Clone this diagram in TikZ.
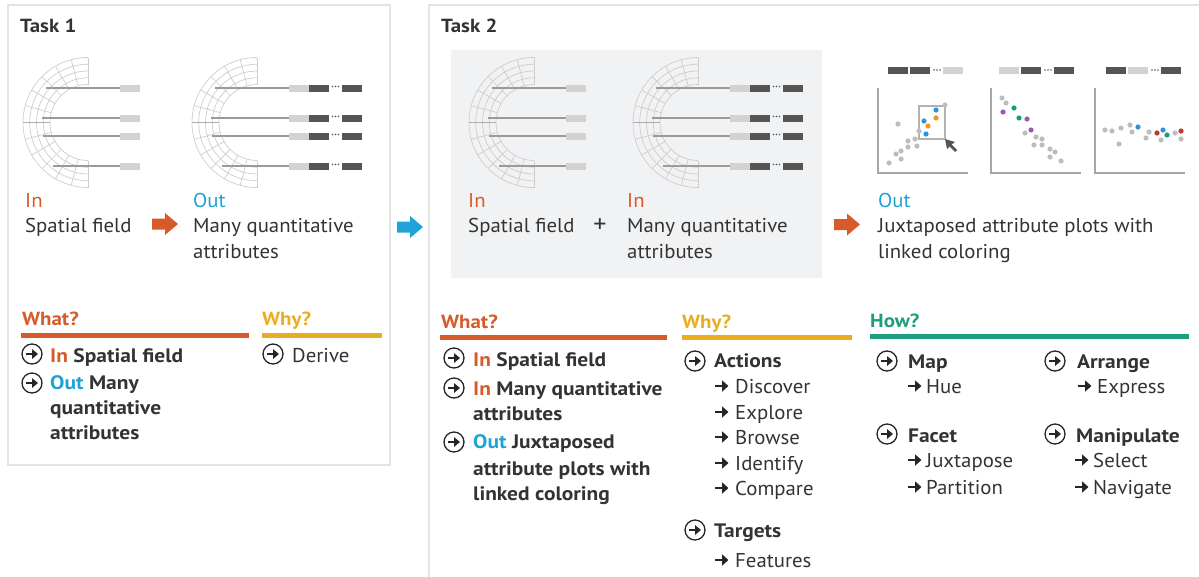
\documentclass[tikz,border=0pt]{standalone}
\usepackage{fontspec}
\setmainfont{PT Sans}[FakeStretch=1.04]
\newfontfamily\boldf{PT Sans}[FakeStretch=1.1]
\usetikzlibrary{arrows.meta,positioning,calc}

\definecolor{txt}{HTML}{333333}
\definecolor{inc}{HTML}{D65A2A}
\definecolor{outc}{HTML}{1FA3D6}
\definecolor{whyc}{HTML}{EBAD20}
\definecolor{howc}{HTML}{1E9E80}
\definecolor{gridc}{HTML}{CDCDCD}
\definecolor{rayc}{HTML}{9A9A9A}
\definecolor{lightc}{HTML}{D2D2D2}
\definecolor{darkc}{HTML}{555555}
\definecolor{panel}{HTML}{F1F2F4}
\definecolor{framec}{HTML}{E3E3E3}
\definecolor{dotg}{HTML}{BDBDBD}
\definecolor{dotb}{HTML}{2C95DA}
\definecolor{doto}{HTML}{F7941E}
\definecolor{dotp}{HTML}{9B59B6}
\definecolor{dotgr}{HTML}{1A9E7A}
\definecolor{dotr}{HTML}{C0392B}

% half polar grid, centre x y
\newcommand{\polarfield}[2]{%
  \foreach \r in {38,44.75,51.5,58.25,65}
    \draw[gridc,line width=0.7pt] (#1,#2) ++(90:\r) arc[start angle=90,end angle=270,radius=\r];
  \foreach \a in {90,105,...,270}
    \draw[gridc,line width=0.7pt] (#1,#2) ++(\a:38) -- ++(\a:27);
  \draw[rayc!80,line width=0.9pt] (#1-65,#2) -- (#1-38,#2);
  \foreach \dy/\sx in {-34.5/-42,-4.5/-46,13.5/-45,43.5/-35}{
    \draw[rayc,line width=1.7pt] (#1+\sx,#2+\dy) -- (#1+32,#2+\dy);
    \fill[lightc] (#1+32,#2+\dy-3.5) rectangle ++(20,7);
  }}
% dark attribute bars behind the light ones
\newcommand{\attrbars}[2]{%
  \foreach \dy in {-34.5,-4.5,13.5,43.5}{
    \fill[darkc] (#1+52,#2+\dy-3.5) rectangle ++(20,7);
    \foreach \d in {75.5,78.5,81.5} \fill[darkc] (#1+\d,#2+\dy-1.5) circle (0.9);
    \fill[darkc] (#1+85,#2+\dy-3.5) rectangle ++(20,7);
  }}
% plot header: left x, centre y, three colours
\newcommand{\plothead}[5]{%
  \fill[#3] (#1,#2-3.5) rectangle ++(20,7);
  \fill[#4] (#1+22,#2-3.5) rectangle ++(20,7);
  \foreach \d in {46,49,52} \fill[darkc] (#1+\d,#2-0.5) circle (0.9);
  \fill[#5] (#1+55,#2-3.5) rectangle ++(20,7);}
\newcommand{\blockarrow}[3]{%
  \fill[#3] (#1,#2-5.5) -- ++(13,0) -- ++(0,-5.5) -- ++(13,11) -- ++(-13,11) -- ++(0,-5.5) -- ++(-13,0) -- cycle;}
\newcommand{\itemicon}[2]{%
  \draw[icon] (#1,#2) circle (10);
  \draw[iconarr] (#1-6,#2) -- (#1+6,#2);}
\newcommand{\subarrow}[2]{\draw[subarr] (#1,#2) -- ++(13.5,0);}

\begin{document}
\begin{tikzpicture}[x=1pt,y=-1pt,
  lbl/.style={anchor=base west,inner sep=0pt,text=txt,font=\fontsize{20}{24}\selectfont},
  bl/.style={anchor=base west,inner sep=0pt,text=txt,font=\boldf\fontsize{19.5}{24}\selectfont\bfseries},
  hd/.style={anchor=base west,inner sep=0pt,font=\boldf\fontsize{19}{22}\selectfont\bfseries},
  icon/.style={draw=black!85,line width=1.3pt},
  iconarr/.style={-{Triangle[length=6pt,width=9.5pt]},line width=2.6pt,black!85},
  subarr/.style={-{Triangle[length=6.5pt,width=11pt]},line width=2.8pt,black!85},
  axis/.style={draw=black!35,line width=1.6pt},
  bar/.style={line width=4.5pt}]
\useasboundingbox (0,0) rectangle (1199,576);

% frames
\draw[framec,line width=2.5pt] (8,5) rectangle (390,465);
\draw[framec,line width=2.5pt] (429,5) rectangle (1215,600);
\fill[panel] (451,50) rectangle (822,278);

% Task 1
\node[hd,text=txt] (t1) at (20,32) {Task 1};
\polarfield{88}{122.5}
\polarfield{257}{122.5}
\attrbars{257}{122.5}
\node[lbl,text=inc] (in1) at (25,207) {In};
\node[lbl] (sf1) at (25,232) {Spatial field};
\blockarrow{152}{224}{inc}
\node[lbl,text=outc] (out1) at (193,207) {Out};
\node[lbl] (mq1) at (193,232) {Many quantitative};
\node[lbl] (at1) at (193,258) {attributes};

\blockarrow{397}{227}{outc}

% Task 2
\node[hd,text=txt] (t2) at (441,32) {Task 2};
\polarfield{534}{122.5}
\polarfield{698}{122.5}
\attrbars{698}{122.5}
\node[lbl,text=inc] (in2) at (468,207) {In};
\node[lbl] (sf2) at (468,232) {Spatial field};
\node[text=txt,inner sep=0pt,font=\fontsize{25}{25}\selectfont] (plus) at (600,226) {+};
\node[lbl,text=inc] (in3) at (627,207) {In};
\node[lbl] (mq2) at (627,232) {Many quantitative};
\node[lbl] (at2) at (627,258) {attributes};
\blockarrow{834}{224.5}{inc}
\node[lbl,text=outc] (out2) at (878,207) {Out};
\node[lbl] (jx) at (878,232) {Juxtaposed attribute plots with};
\node[lbl] (lc) at (878,258) {linked coloring};

% plots
\plothead{888}{70.5}{darkc}{darkc}{lightc}
\plothead{999}{70.5}{lightc}{darkc}{darkc}
\plothead{1106}{70.5}{darkc}{lightc}{darkc}
\foreach \px in {878,991,1095}
  \draw[axis] (\px,88) -- (\px,173) -- (\px+90,173);
\draw[black!30,line width=1.2pt] (919,106) rectangle (945,139);
\foreach \x/\y in {889/163,896/154,901/151,901/159,908/141,908/147,915/139,917/146,919/131,898/124,945/105,
  1002/98,1006/103,1025/133,1036/137,1042/139,1034/145,1042/145,1050/149,1055/152,1050/157,1061/161,
  1105/130,1112/131,1121/128,1130/125,1132/132,1119/144,1146/138,1149/132,1161/140,1175/133,1181/139}
  \fill[dotg] (\x,\y) circle (2.6);
\foreach \x/\y in {936/110,924/121,926/134,1138/127,1163/130} \fill[dotb] (\x,\y) circle (2.6);
\foreach \x/\y in {936/118,928/126} \fill[doto] (\x,\y) circle (2.6);
\foreach \x/\y in {1003/112,1027/119,1031/130} \fill[dotp] (\x,\y) circle (2.6);
\foreach \x/\y in {1014/108,1019/118,1167/135} \fill[dotgr] (\x,\y) circle (2.6);
\foreach \x/\y in {1157/133,1181/131} \fill[dotr] (\x,\y) circle (2.6);
\fill[darkc] (945,139) -- (955,142) -- (951.5,144.5) -- (957,150) -- (955,152) -- (949.5,146.5) -- (947,149) -- cycle;

% Task 1 what / why
\node[hd,text=inc] (what1) at (22,325) {What?};
\draw[bar,inc] (21,335.5) -- (249,335.5);
\node[hd,text=whyc] (why1) at (262,325) {Why?};
\draw[bar,whyc] (262,335.5) -- (382,335.5);
\itemicon{32}{354}
\node[bl] (w1a) at (50,362) {\textcolor{inc}{In} Spatial field};
\itemicon{32}{383}
\node[bl] (w1b) at (50,389) {\textcolor{outc}{Out} Many};
\node[bl] (w1c) at (50,414) {quantitative};
\node[bl] (w1d) at (50,439) {attributes};
\itemicon{273}{354}
\node[lbl] (dv) at (292,362) {Derive};

% Task 2 what / why / how
\node[hd,text=inc] (what2) at (441,328) {What?};
\draw[bar,inc] (440,337.5) -- (667,337.5);
\node[hd,text=whyc] (why2) at (682,328) {Why?};
\draw[bar,whyc] (682,337.5) -- (852,337.5);
\node[hd,text=howc] (how) at (870,327) {How?};
\draw[bar,howc] (870,336.5) -- (1189,336.5);

\itemicon{454}{358}
\node[bl] (w2a) at (473,366) {\textcolor{inc}{In} Spatial field};
\itemicon{454}{388}
\node[bl] (w2b) at (473,395) {\textcolor{inc}{In} Many quantitative};
\node[bl] (w2c) at (473,420) {attributes};
\itemicon{454}{442}
\node[bl] (w2d) at (473,448) {\textcolor{outc}{Out} Juxtaposed};
\node[bl] (w2e) at (473,475) {attribute plots with};
\node[bl] (w2f) at (473,500) {linked coloring};

\itemicon{695}{361}
\node[bl] (act) at (714,367) {Actions};
\foreach \t/\yb [count=\i] in {Discover/393,Explore/419,Browse/444,Identify/470,Compare/495}{
  \subarrow{715}{\yb-7}
  \node[lbl] (a\i) at (735,\yb) {\t};
}
\itemicon{695}{530}
\node[bl] (tg) at (714,537) {Targets};
\subarrow{715}{560}
\node[lbl] (ft) at (735,567) {Features};

\itemicon{887}{361}
\node[bl] (mp) at (908,368) {Map};
\subarrow{908}{386}
\node[lbl] (hue) at (926,393) {Hue};
\itemicon{887}{434}
\node[bl] (fc) at (908,442) {Facet};
\subarrow{908}{460}
\node[lbl] (jp) at (926,467) {Juxtapose};
\subarrow{908}{487}
\node[lbl] (pt) at (926,494) {Partition};
\itemicon{1055}{361}
\node[bl] (ar) at (1077,368) {Arrange};
\subarrow{1078}{386}
\node[lbl] (ex) at (1097,393) {Express};
\itemicon{1055}{434}
\node[bl] (mn) at (1076,442) {Manipulate};
\subarrow{1075}{460}
\node[lbl] (sl) at (1093,467) {Select};
\subarrow{1075}{487}
\node[lbl] (nv) at (1093,494) {Navigate};
\end{tikzpicture}
\end{document}
